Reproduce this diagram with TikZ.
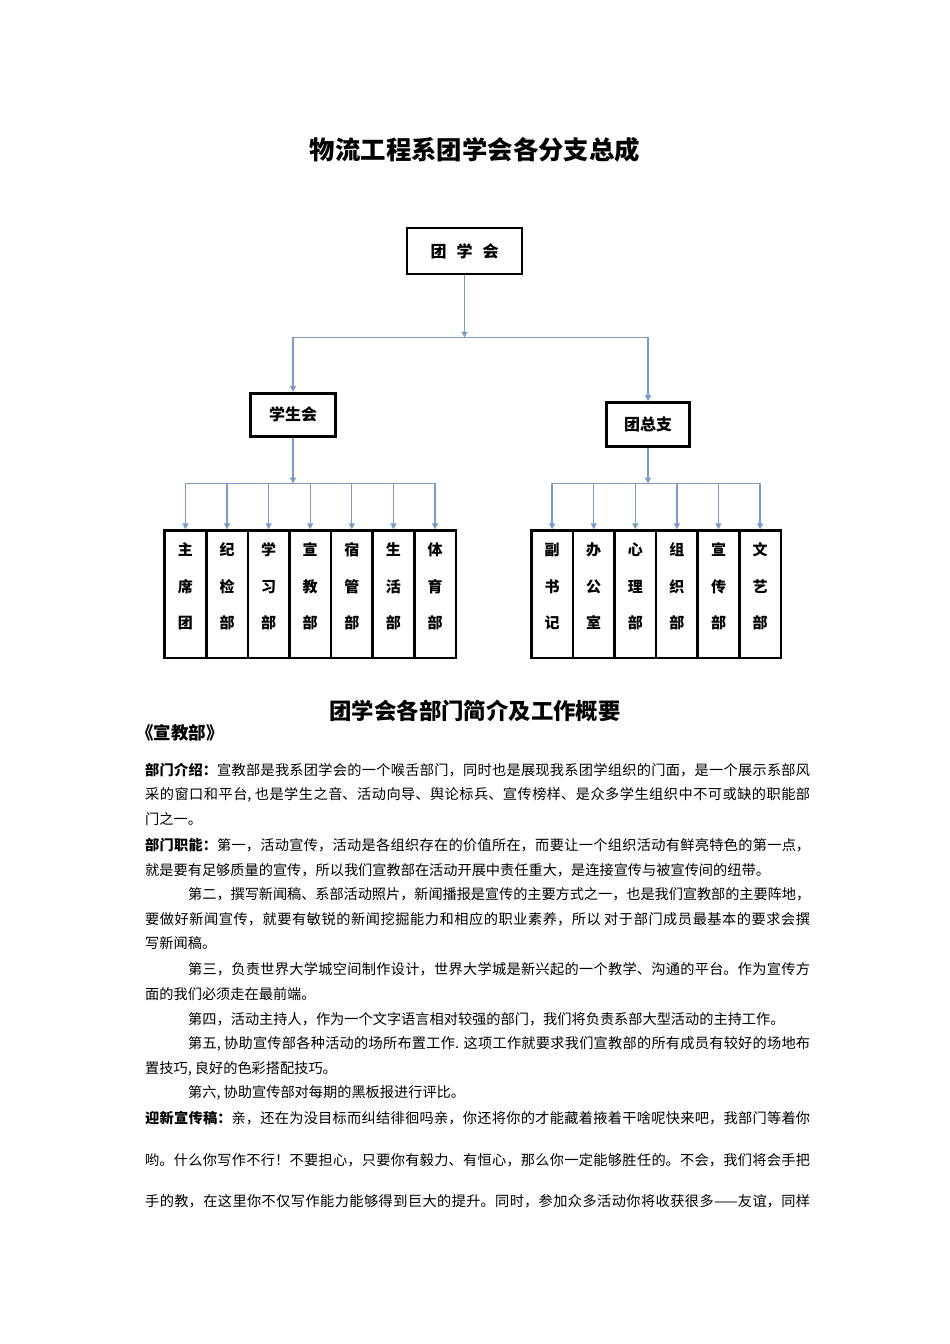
\documentclass[tikz,border=0pt]{standalone}
\usepackage{fontspec}
\setmainfont{Noto Sans CJK SC}
\usetikzlibrary{arrows.meta,calc}
\definecolor{linkBlue}{RGB}{122,156,198}
\XeTeXlinebreaklocale "zh"
\XeTeXlinebreakskip=0pt plus 3pt minus 0.5pt

\begin{document}
\begin{tikzpicture}[x=1pt,y=-1pt,
  box/.style={draw,line width=2.6pt,inner sep=0pt,
              font=\fontsize{16}{19}\selectfont\bfseries},
  col/.style={draw,line width=2.6pt,minimum width=41.6pt,inner sep=0pt,anchor=north,
              text height=98.1pt,text depth=29.3pt,align=center,
              font=\fontsize{15}{36.5}\selectfont\bfseries},
  conn/.style={draw=linkBlue,line width=1.3pt},
  arr/.style={conn,-{Triangle[length=6pt,width=6pt]}},
  head/.style={inner sep=0pt,font=\bfseries},
  body/.style={anchor=west,inner sep=0pt,font=\fontsize{14.2}{17}\selectfont},
  jbody/.style={body,text width=#1,align=justify,
                execute at begin node={\parfillskip=0pt\relax}}
]

% ---- page ----
\fill[white] (0,0) rectangle (950,1344);
\useasboundingbox (0,0) rectangle (950,1344);

\def\xL{185.4}  % first column, left group
\def\xR{552.1}  % first column, right group
\def\yCol{529.3}

% ---- titles ----
\node[head,font=\fontsize{25.4}{30}\selectfont\bfseries] (title) at (475,150)
  {物流工程系团学会各分支总成};

% ---- upper boxes ----
\node[box,minimum width=115pt,minimum height=46pt] (tuan) at (464.5,251)
  {团\hspace{10pt}学\hspace{10pt}会};
\node[box,minimum width=85pt,minimum height=43pt] (stu) at (293,414.7) {学生会};
\node[box,minimum width=83pt,minimum height=44pt] (tzz) at (648,424.5) {团总支};

\coordinate (barT) at (0,337.5);
\coordinate (barS) at (0,483.5);

% ---- columns ----
\foreach \txt [count=\i] in {{主\\席\\团},{纪\\检\\部},{学\\习\\部},{宣\\教\\部},
                             {宿\\管\\部},{生\\活\\部},{体\\育\\部}}{
  \node[col] (xs\i) at ({\xL+41.6*(\i-1)},\yCol) {\txt};
}
\foreach \txt [count=\i] in {{副\\书\\记},{办\\公\\室},{心\\理\\部},{组\\织\\部},
                             {宣\\传\\部},{文\\艺\\部}}{
  \node[col] (tz\i) at ({\xR+41.6*(\i-1)},\yCol) {\txt};
}

% ---- connectors ----
\draw[arr] (tuan.south) -- (tuan.south |- barT);
\draw[arr] (tuan.south |- barT) -| (stu.north);
\draw[arr] (tuan.south |- barT) -| (tzz.north);

\draw[arr] (stu.south) -- (stu.south |- barS);
\foreach \i in {1,...,7}{
  \draw[arr] (stu.south |- barS) -| (xs\i.north);
}
\draw[arr] (tzz.south) -- (tzz.south |- barS);
\foreach \i in {1,...,6}{
  \draw[arr] (tzz.south |- barS) -| (tz\i.north);
}

% ========================================================
%  text part
% ========================================================
\node[head,font=\fontsize{22.4}{27}\selectfont\bfseries] (sub) at (475,711)
  {团学会各部门简介及工作概要};
\node[head,anchor=west,font=\fontsize{17.5}{21}\selectfont\bfseries] (dept) at (136,733)
  {《宣教部》};

\node[jbody=665pt] (p1) at (145,770)
  {\textbf{部门介绍：}宣教部是我系团学会的一个喉舌部门，同时也是展现我系团学组织的门面，是一个展示系部风};
\node[jbody=665pt] (p2) at (145,795)
  {采的窗口和平台, 也是学生之音、活动向导、舆论标兵、宣传榜样、是众多学生组织中不可或缺的职能部};
\node[body] (p3) at (145,819) {门之一。};

\node[jbody=665pt] (p4) at (145,845)
  {\textbf{部门职能：}第一，活动宣传，活动是各组织存在的价值所在，而要让一个组织活动有鲜亮特色的第一点，};
\node[body] (p5) at (145,870)
  {就是要有足够质量的宣传，所以我们宣教部在活动开展中责任重大，是连接宣传与被宣传间的纽带。};
\node[jbody=622pt] (p6) at (188,894)
  {第二，撰写新闻稿、系部活动照片，新闻播报是宣传的主要方式之一，也是我们宣教部的主要阵地，};
\node[jbody=665pt] (p7) at (145,919)
  {要做好新闻宣传，就要有敏锐的新闻挖掘能力和相应的职业素养，所以 对于部门成员最基本的要求会撰};
\node[body] (p8) at (145,943) {写新闻稿。};
\node[jbody=622pt] (p9) at (188,969)
  {第三，负责世界大学城空间制作设计，世界大学城是新兴起的一个教学、沟通的平台。作为宣传方};
\node[body] (p10) at (145,994) {面的我们必须走在最前端。};
\node[body] (p11) at (188,1019)
  {第四，活动主持人，作为一个文字语言相对较强的部门，我们将负责系部大型活动的主持工作。};
\node[jbody=622pt] (p12) at (188,1044)
  {第五, 协助宣传部各种活动的场所布置工作. 这项工作就要求我们宣教部的所有成员有较好的场地布};
\node[body] (p13) at (145,1069) {置技巧, 良好的色彩搭配技巧。};
\node[body] (p14) at (188,1093) {第六, 协助宣传部对每期的黑板报进行评比。};

\node[jbody=665pt] (p15) at (145,1118)
  {\textbf{迎新宣传稿：}亲，还在为没目标而纠结徘徊吗亲，你还将你的才能藏着掖着干啥呢快来吧，我部门等着你};
\node[jbody=665pt] (p16) at (145,1160)
  {哟。什么你写作不行！不要担心，只要你有毅力、有恒心，那么你一定能够胜任的。不会，我们将会手把};
\node[jbody=665pt] (p17) at (145,1201)
  {手的教，在这里你不仅写作能力能够得到巨大的提升。同时，参加众多活动你将收获很多——友谊，同样};

\end{tikzpicture}
\end{document}
